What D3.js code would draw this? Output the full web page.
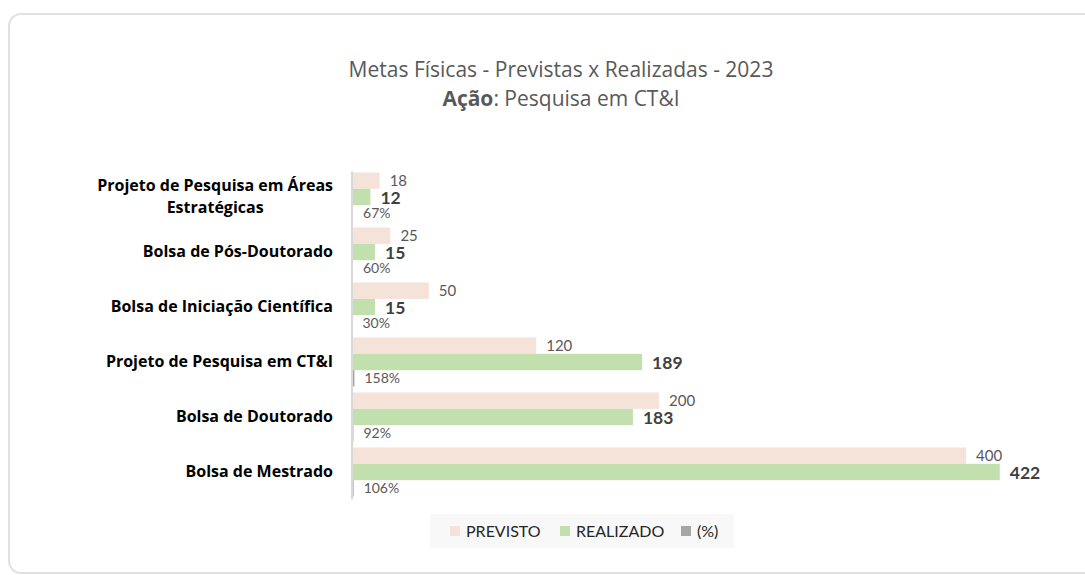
<!DOCTYPE html>
<html>
<head>
<meta charset="utf-8">
<script src="https://cdn.jsdelivr.net/npm/d3@7"></script>
<style>
  body { margin: 0; background: #fff; }
  svg text { font-family: Lato, "Open Sans", sans-serif; }
</style>
</head>
<body>
<svg id="vis" width="1085" height="575"></svg>
<script>
// data
let categories = [
    "Projeto de Pesquisa em Áreas Estratégicas",
    "Bolsa de Pós-Doutorado",
    "Bolsa de Iniciação Científica",
    "Projeto de Pesquisa em CT&I",
    "Bolsa de Doutorado",
    "Bolsa de Mestrado"
];
let seriesNames = ["PREVISTO", "REALIZADO", "(%)"];
let previsto = [18, 25, 50, 120, 200, 400];
let realizado = [12, 15, 15, 189, 183, 422];
let percent = [0.67, 0.60, 0.30, 1.58, 0.92, 1.06];
let percentLabels = ["67%", "60%", "30%", "158%", "92%", "106%"];
let colors = ["#f5e2d8", "#c2dfae", "#a6a6a6"];

var svg = d3.select("#vis");

// card behind the chart
svg.append("rect")
    .attr("x", 9).attr("y", 14)
    .attr("width", 1090).attr("height", 559)
    .attr("rx", 12)
    .attr("fill", "#fff")
    .attr("stroke", "#e0e0e0")
    .attr("stroke-width", 2);

// title
var title = svg.append("text")
    .attr("x", 561).attr("y", 77)
    .attr("text-anchor", "middle")
    .style("font-size", "21px")
    .style("font-family", "'Open Sans', sans-serif")
    .attr("fill", "#595959")
    .text("Metas Físicas - Previstas x Realizadas - 2023");
var sub = svg.append("text")
    .attr("x", 561).attr("y", 106)
    .attr("text-anchor", "middle")
    .style("font-size", "21px")
    .style("font-family", "'Open Sans', sans-serif")
    .attr("fill", "#595959");
sub.append("tspan").style("font-weight", "bold").text("Ação");
sub.append("tspan").text(": Pesquisa em CT&I");

// scales
var x = d3.scaleLinear()
    .domain([0, 400])
    .range([352, 966]);

var y0 = d3.scaleBand()
    .domain(categories)
    .range([169.5, 499.5])
    .paddingInner(0.109)
    .paddingOuter(0.0545);

var y1 = d3.scaleBand()
    .domain(seriesNames)
    .range([0, y0.bandwidth()]);

// rows as objects for the joins
var rows = categories.map(function(c, i){
    return {cat: c, vals: [
        {s: "PREVISTO", v: previsto[i], label: String(previsto[i])},
        {s: "REALIZADO", v: realizado[i], label: String(realizado[i])},
        {s: "(%)", v: percent[i], label: percentLabels[i]}
    ]};
});

var groups = svg.selectAll(".row")
    .data(rows)
    .enter()
    .append("g")
    .attr("class", "row")
    .attr("transform", function(d){ return "translate(0," + y0(d.cat) + ")"; });

groups.selectAll("rect")
    .data(function(d){ return d.vals; })
    .enter()
    .append("rect")
    .attr("x", x(0))
    .attr("y", function(d){ return y1(d.s); })
    .attr("width", function(d){ return x(d.v) - x(0); })
    .attr("height", y1.bandwidth())
    .attr("fill", function(d){ return colors[seriesNames.indexOf(d.s)]; });

// value labels
groups.selectAll(".lbl")
    .data(function(d){ return d.vals; })
    .enter()
    .append("text")
    .attr("class", "lbl")
    .attr("x", function(d){ return x(d.v) + 10; })
    .attr("y", function(d){ return y1(d.s) + y1.bandwidth()/2 + (d.s == "REALIZADO" ? 1 : 0); })
    .attr("dy", "0.36em")
    .style("font-size", function(d){ return d.s == "REALIZADO" ? "17.5px" : (d.s == "PREVISTO" ? "15px" : "14px"); })
    .style("font-weight", function(d){ return d.s == "REALIZADO" ? "bold" : "normal"; })
    .attr("fill", function(d){ return d.s == "REALIZADO" ? "#404040" : "#595959"; })
    .text(function(d){ return d.label; });

// y axis
var yAxis = svg.append("g")
    .attr("transform", "translate(" + x(0) + ",0)")
    .call(d3.axisLeft(y0).tickSize(0).tickPadding(19));
yAxis.select(".domain")
    .attr("stroke", "#d9d9d9")
    .attr("stroke-width", 2)
    .attr("d", "M0," + (y0.range()[0] + 2) + "V" + y0.range()[1]);
yAxis.selectAll(".tick text")
    .attr("fill", "#000")
    .style("font-size", "16px")
    .style("font-weight", "bold")
    .style("font-family", "'Open Sans', sans-serif")
    .each(function(d){
        var t = d3.select(this);
        if (this.getComputedTextLength() <= 260) return;
        // split long label into two lines, centred like Excel does
        var words = d.split(" ");
        var line1 = words.slice(0, words.length - 1).join(" ");
        var line2 = words[words.length - 1];
        t.text("");
        var a = t.append("tspan").text(line1);
        var w = this.getComputedTextLength();
        var cx = -19 - w/2;
        t.attr("text-anchor", "middle").attr("dy", null);
        a.attr("x", cx).attr("dy", "-0.35em");
        t.append("tspan").attr("x", cx).attr("dy", "1.38em").text(line2);
    });

// legend
var legend = svg.append("g");
legend.append("rect")
    .attr("x", 430).attr("y", 514)
    .attr("width", 304).attr("height", 34)
    .attr("fill", "#f9f8f8");
var legX = [450, 560, 681];
seriesNames.forEach(function(s, i){
    legend.append("rect")
        .attr("x", legX[i]).attr("y", 526)
        .attr("width", 10).attr("height", 10)
        .attr("fill", colors[i]);
    legend.append("text")
        .attr("x", legX[i] + 16).attr("y", 531)
        .attr("dy", "0.36em")
        .style("font-size", "16px")
        .attr("fill", "#262626")
        .text(s);
});
</script>
</body>
</html>
